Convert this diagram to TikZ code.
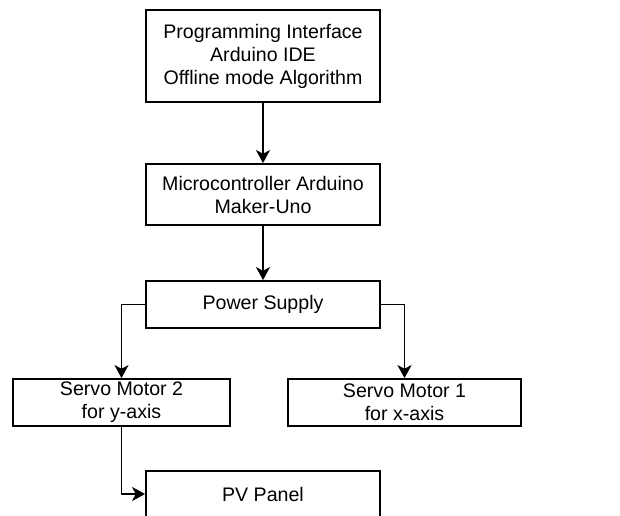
\documentclass[tikz,border=0pt]{standalone}
\usepackage{fontspec}
\setmainfont{Liberation Sans}
\usetikzlibrary{arrows.meta}

\begin{document}
\begin{tikzpicture}[x=0.5pt,y=-0.5pt,
    block/.style={draw, line width=0.9pt, align=center, inner sep=0pt,
        font=\fontsize{9.8}{11.5}\selectfont},
    arr/.style={-{Stealth[length=6.5pt,width=7pt,inset=1.8pt]}, line width=0.9pt}]
        \useasboundingbox (0,0) rectangle (620,515);
        % blocks
        \node[block, minimum width=117pt, minimum height=46pt] (prog) at (263,56)
            {Programming Interface\\Arduino IDE\\Offline mode Algorithm};
        \node[block, minimum width=117pt, minimum height=30.5pt] (micro) at (263,194.5)
            {Microcontroller Arduino\\Maker-Uno};
        \node[block, minimum width=117pt, minimum height=23.5pt] (power) at (263,304.5)
            {Power Supply};
        \node[block, minimum width=108.5pt, minimum height=23.5pt] (servoy) at (121.5,402.5)
            {Servo Motor 2\\for y-axis};
        \node[block, minimum width=116.5pt, minimum height=23.5pt] (servox) at (404.5,402.5)
            {Servo Motor 1\\for x-axis};
        \node[block, minimum width=117pt, minimum height=23pt] (pv) at (263,494)
            {PV Panel};
        % connections
        \draw[arr] (prog) -- (micro);
        \draw[arr] (micro) -- (power);
        \draw[arr] (power.west) -| (servoy.north);
        \draw[arr] (power.east) -| (servox.north);
        \draw[arr] (servoy.south) |- (pv.west);
\end{tikzpicture}
\end{document}
